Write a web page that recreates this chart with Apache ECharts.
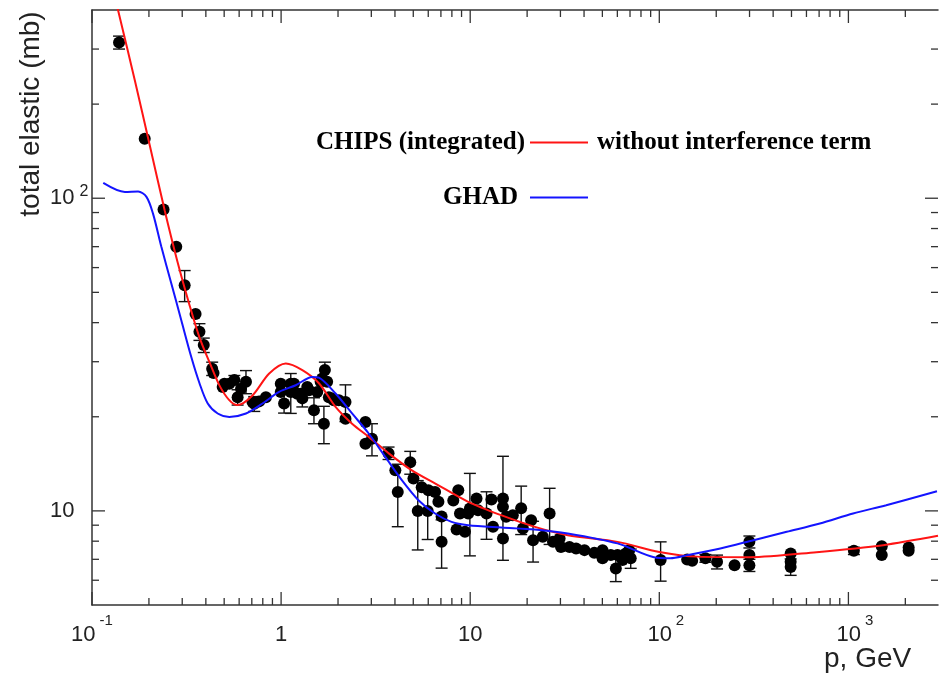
<!DOCTYPE html>
<html>
<head>
<meta charset="utf-8">
<script src="https://cdn.jsdelivr.net/npm/echarts@6/dist/echarts.min.js"></script>
<style>
  html, body { margin: 0; padding: 0; background: #ffffff; }
  #chart { width: 941px; height: 674px; }
</style>
</head>
<body>
<div id="chart"></div>
<script>
// Measured elastic cross sections: beam momentum (GeV), sigma (mb), error (mb)
const pMom = [0.139,0.190,0.239,0.279,0.309,0.353,0.370,0.390,0.432,0.439,
  0.491,0.501,0.532,0.566,0.589,0.614,0.652,0.706,0.721,0.766,
  0.831,0.996,0.996,1.037,1.125,1.125,1.171,1.218,1.270,1.295,
  1.375,1.404,1.492,1.553,1.618,1.650,1.704,1.684,1.752,1.789,
  1.862,1.900,2.020,2.190,2.190,2.792,2.792,3.024,3.70,4.02,
  4.14,4.82,5.01,5.28,5.54,5.96,6.01,6.52,6.79,7.06,
  7.06,8.14,8.47,8.65,8.83,9.38,9.96,9.76,10.8,11.0,
  12.2,12.95,13.2,14.9,14.9,14.9,15.5,16.8,18.6,19.0,
  21.0,21.5,24.2,26.3,27.4,29.7,30.2,33.5,36.3,40.2,
  45.3,50.1,50.1,55.4,58.9,60.1,63.9,66.5,69.3,70.6,
  101.6,140.4,149.2,175.3,202,250,299.5,299.5,299.5,495,
  495,495,1069,1501,1501,2082,2082];
const sigEl = [315,155,92,70,52.7,42.6,37.4,33.9,28.5,27.6,
  24.9,25.5,25.5,26.2,23.1,24.6,25.9,22.3,22.0,22.4,
  23.1,25.5,24.0,22.05,25.5,24.0,25.5,23.7,23.7,22.9,
  24.9,24.3,21.0,24.0,25.9,26.5,28.2,19.0,25.9,23.1,
  22.9,22.6,22.6,22.3,19.7,19.25,16.4,17.0,15.3,13.5,
  11.5,14.3,12.7,10.0,11.9,10.0,11.65,11.5,10.7,9.6,
  7.96,10.8,8.72,11.65,9.81,8.57,10.18,9.81,10.95,10.05,
  9.81,10.87,8.89,10.95,10.3,8.16,9.57,9.69,10.2,8.78,
  9.34,8.06,8.26,9.81,7.96,8.16,7.67,7.67,7.58,7.49,
  7.34,7.49,7.05,7.22,6.54,7.22,6.96,7.31,7.49,7.05,
  6.96,6.99,6.92,7.05,6.87,6.70,7.96,7.22,6.70,7.31,
  6.87,6.62,7.45,7.71,7.22,7.64,7.45];
const sigErr = [15,0,0,0,6,0,2.3,1.8,1.4,0,
  0,0,0,0.9,1.3,0,2.2,0,1.2,0,
  0,0,0,1.5,0,3.5,0,0,0,1.4,
  0,0,2.0,0,0,0,1.7,2.6,0,0,
  0,0,0,3.0,0,0,0,2.0,0.7,0,
  2.6,1.2,0,2.5,0,1.9,0,0,0,0,
  1.4,0,0,0,0,0,3.0,0,0,0,
  1.7,0,0,4.0,0,0,0,0,1.8,0,
  0,1.2,0,2.0,0,0,0,0,0,0,
  0,0,0,0,0.6,0,0,0,0,0.5,
  1.0,0,0,0.2,0.35,0,0.35,0,0.3,0,
  0,0.4,0.2,0,0,0,0];

// CHIPS (integrated) prediction
const chipsP = [0.1354,0.1684,0.2020,0.2422,0.2836,0.3280,0.370,0.418,0.4718,0.532,
  0.5868,0.706,0.865,1.059,1.295,1.585,1.941,2.373,2.906,3.702,
  4.892,6.543,9.761,14.56,21.99,32.8,60.1,100,158.5,301,
  678,1528,2977];
const chipsSig = [414,238.5,147.7,91.5,62.4,45.5,35.9,29.9,25.2,22.6,
  21.8,23.4,27.5,29.6,28.2,25.6,21.5,19.0,17.25,15.29,
  13.5,12.23,10.69,9.69,8.89,8.36,7.96,7.39,7.14,7.11,
  7.38,7.77,8.32];

// GHAD prediction
const ghadP = [0.1147,0.1492,0.1753,0.1941,0.2102,0.2327,0.2627,0.2966,0.3347,0.3702,
  0.4094,0.4621,0.5323,0.6521,0.7972,0.9761,1.195,1.461,1.585,1.941,
  2.373,2.906,3.557,4.349,5.325,6.52,7.97,9.761,14.61,21.9,
  32.8,60.1,93.8,114.3,140.4,210.2,315,471.8,706.2,1058.5,
  1585,2940];
const ghadSig = [111.9,104.7,105.1,101.0,89.3,69.9,53.4,40.7,31.1,25.6,
  22.05,20.49,19.98,20.49,22.05,24.03,25.23,26.83,26.67,23.74,
  20.49,17.68,14.88,12.54,10.82,9.81,9.22,9.00,8.85,8.72,
  8.47,7.87,7.11,7.06,7.22,7.58,8.06,8.57,9.11,9.81,
  10.43,11.56];

// Axis ranges and tick positions
const X_MIN = 0.1, X_MAX = 2977;
const Y_MIN = 5, Y_MAX = 400;
const xMajorTicks = [0.1, 1, 10, 100, 1000];
const yMajorTicks = [10, 100];
const xLabelText = { '-1': '{b|10}{s|-1}', '0': '{b|1}', '1': '{b|10}', '2': '{bp|10}{s|2}', '3': '{bp|10}{s|3}' };
const yLabelText = { '1': '{b|10}', '2': '{b|10}{s|2}' };

const axisColor = '#333333';
const labelFont = 'Liberation Sans';
const legendFont = 'Liberation Serif';

function minorTicks(majors, lo, hi) {
  const out = [];
  majors.concat([majors[majors.length - 1] * 10]).forEach(function (d) {
    for (let m = 2; m <= 9; m++) {
      const v = d / 10 * m;
      if (v > lo && v < hi) out.push(v);
    }
  });
  return out;
}
const xMinorTicks = minorTicks([0.01].concat(xMajorTicks), X_MIN, X_MAX);
const yMinorTicks = minorTicks([1].concat(yMajorTicks), Y_MIN, Y_MAX);

const tickData = [];
xMajorTicks.forEach(v => tickData.push([v, 10, 0]));
xMinorTicks.forEach(v => tickData.push([v, 10, 1]));
yMajorTicks.forEach(v => tickData.push([1, v, 2]));
yMinorTicks.forEach(v => tickData.push([1, v, 3]));

const points = pMom.map((p, i) => [p, sigEl[i]]);
const errData = [];
pMom.forEach((p, i) => {
  if (sigErr[i] > 0) errData.push([p, sigEl[i] - sigErr[i], sigEl[i] + sigErr[i]]);
});
const chipsData = chipsP.map((p, i) => [p, chipsSig[i]]);
const ghadData = ghadP.map((p, i) => [p, ghadSig[i]]);

function decadeKey(v) {
  const e = Math.log10(v);
  const r = Math.round(e);
  return Math.abs(e - r) < 1e-6 ? String(r) : null;
}

function renderTick(params, api) {
  const v = api.value(0), w = api.value(1), kind = api.value(2);
  const len = (kind === 0 || kind === 2) ? 13 : 7;
  const style = { stroke: axisColor, lineWidth: 1.3 };
  if (kind < 2) {
    const b = api.coord([v, Y_MIN]);
    const t = api.coord([v, Y_MAX]);
    return { type: 'group', children: [
      { type: 'line', shape: { x1: b[0], y1: b[1], x2: b[0], y2: b[1] - len }, style: style },
      { type: 'line', shape: { x1: t[0], y1: t[1], x2: t[0], y2: t[1] + len }, style: style }
    ] };
  }
  const l = api.coord([X_MIN, w]);
  const r = api.coord([X_MAX, w]);
  return { type: 'group', children: [
    { type: 'line', shape: { x1: l[0], y1: l[1], x2: l[0] + len, y2: l[1] }, style: style },
    { type: 'line', shape: { x1: r[0], y1: r[1], x2: r[0] - len, y2: r[1] }, style: style }
  ] };
}

function renderErr(params, api) {
  const p = api.value(0);
  const lo = api.coord([p, api.value(1)]);
  const hi = api.coord([p, api.value(2)]);
  const h = 6;
  const style = { stroke: '#111111', lineWidth: 1.4 };
  return { type: 'group', children: [
    { type: 'line', shape: { x1: lo[0], y1: lo[1], x2: hi[0], y2: hi[1] }, style: style },
    { type: 'line', shape: { x1: lo[0] - h, y1: lo[1], x2: lo[0] + h, y2: lo[1] }, style: style },
    { type: 'line', shape: { x1: hi[0] - h, y1: hi[1], x2: hi[0] + h, y2: hi[1] }, style: style }
  ] };
}

const frameLine = { show: true, lineStyle: { color: axisColor, width: 1.5 } };
const legendText = { fontFamily: legendFont, fontWeight: 'bold', fontSize: 25, color: '#000000' };

const chart = echarts.init(document.getElementById('chart'), null, { renderer: 'canvas' });
chart.setOption({
  animation: false,
  backgroundColor: '#ffffff',
  grid: { left: 92, top: 10, width: 850, height: 595, containLabel: false },
  xAxis: [
    {
      type: 'log', logBase: 10, min: X_MIN, max: X_MAX, position: 'bottom',
      axisLine: frameLine, axisTick: { show: false }, splitLine: { show: false },
      axisLabel: {
        margin: 8, color: '#222222',
        formatter: function (v) { const k = decadeKey(v); return k !== null && xLabelText[k] ? xLabelText[k] : ''; },
        rich: {
          b: { fontSize: 22, lineHeight: 44, fontFamily: labelFont, color: '#222222' },
          bp: { fontSize: 22, lineHeight: 44, fontFamily: labelFont, color: '#222222', padding: [0, 0, 0, 13] },
          s: { fontSize: 15, lineHeight: 15, fontFamily: labelFont, color: '#222222', verticalAlign: 'top', padding: [0, 0, 0, 4] }
        }
      }
    },
    {
      type: 'log', logBase: 10, min: X_MIN, max: X_MAX, position: 'top',
      axisLine: frameLine, axisTick: { show: false }, axisLabel: { show: false }, splitLine: { show: false }
    }
  ],
  yAxis: [
    {
      type: 'log', logBase: 10, min: Y_MIN, max: Y_MAX, position: 'left', splitNumber: 2,
      axisLine: frameLine, axisTick: { show: false }, splitLine: { show: false },
      axisLabel: {
        margin: 42, align: 'left', color: '#222222',
        formatter: function (v) { const k = decadeKey(v); return k !== null && yLabelText[k] ? yLabelText[k] : ''; },
        rich: {
          b: { fontSize: 22, lineHeight: 30, fontFamily: labelFont, color: '#222222' },
          s: { fontSize: 16, lineHeight: 16, fontFamily: labelFont, color: '#222222', verticalAlign: 'top', padding: [0, 0, 0, 5] }
        }
      }
    },
    {
      type: 'log', logBase: 10, min: Y_MIN, max: Y_MAX, position: 'right',
      axisLine: { show: false }, axisTick: { show: false }, axisLabel: { show: false }, splitLine: { show: false }
    }
  ],
  legend: [
    {
      data: ['CHIPS (integrated)'], right: 353, top: 130, padding: 0, align: 'right',
      icon: 'rect', itemWidth: 58, itemHeight: 2, selectedMode: false, textStyle: legendText
    },
    {
      data: ['GHAD'], right: 353, top: 185, padding: 0, align: 'right',
      icon: 'rect', itemWidth: 58, itemHeight: 2, selectedMode: false,
      textStyle: Object.assign({ padding: [0, 7, 0, 0] }, legendText)
    }
  ],
  graphic: [
    { type: 'text', x: 597, y: 143, style: { text: 'without interference term', fontFamily: legendFont, fontWeight: 'bold', fontSize: 25, fill: '#000000', align: 'left', verticalAlign: 'middle' } },
    { type: 'text', x: 824, y: 659, style: { text: 'p, GeV', fontFamily: labelFont, fontSize: 28, fill: '#222222', align: 'left', verticalAlign: 'middle' } },
    { type: 'text', x: 31, y: 114, rotation: Math.PI / 2, style: { text: 'total elastic (mb)', fontFamily: labelFont, fontSize: 28, fill: '#222222', align: 'center', verticalAlign: 'middle' } }
  ],
  series: [
    {
      type: 'custom', name: 'ticks', renderItem: renderTick, data: tickData,
      encode: { x: 0, y: 1 }, silent: true, z: 1, clip: false
    },
    {
      type: 'custom', name: 'errors', renderItem: renderErr, data: errData,
      encode: { x: 0, y: [1, 2] }, silent: true, z: 2
    },
    {
      type: 'scatter', name: 'data', data: points, symbol: 'circle', symbolSize: 12,
      itemStyle: { color: '#000000', opacity: 1 }, z: 3
    },
    {
      type: 'line', name: 'CHIPS (integrated)', data: chipsData, smooth: 0.3, showSymbol: false,
      symbol: 'none', lineStyle: { color: '#ff1414', width: 2 }, itemStyle: { color: '#ff1414' }, z: 4
    },
    {
      type: 'line', name: 'GHAD', data: ghadData, smooth: 0.3, showSymbol: false,
      symbol: 'none', lineStyle: { color: '#1414ff', width: 2 }, itemStyle: { color: '#1414ff' }, z: 4
    }
  ]
});
</script>
</body>
</html>
